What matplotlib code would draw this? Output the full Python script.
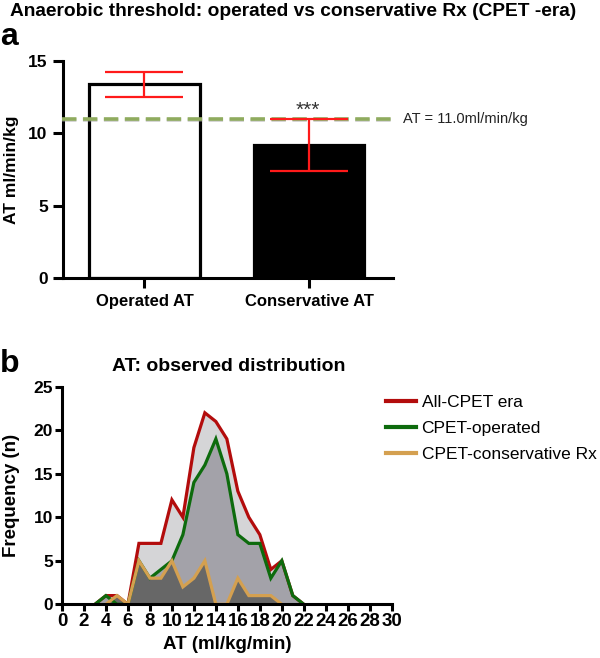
import matplotlib
matplotlib.use("Agg")
import matplotlib.pyplot as plt
import matplotlib.patheffects as pe
import numpy as np

plt.rcParams['font.family'] = ['Liberation Sans', 'DejaVu Sans']

# ---------------- data ----------------
title = "Anaerobic threshold: operated vs conservative Rx (CPET -era)"
bar_labels = ["Operated AT", "Conservative AT"]
bar_means = [13.37, 9.2]
bar_errs = [0.85, 1.79]
at_cutoff = 11.0

at_bins = list(range(3, 23))            # AT (ml/kg/min), 3..22
all_cpet = [0, 1, 1, 0, 7, 7, 7, 12, 10, 18, 22, 21, 19, 13, 10, 8, 4, 5, 1, 0]
operated = [0, 1, 0, 0, 5, 3, 4, 5, 8, 14, 16, 19, 15, 8, 7, 7, 3, 5, 1, 0]
cons_bins = list(range(4, 21))          # 4..20
conservative = [0, 1, 0, 5, 3, 3, 5, 2, 3, 5, 0, 0, 3, 1, 1, 1, 0]
series_names = ["All-CPET era", "CPET-operated", "CPET-conservative Rx"]

W, H = 600, 658
fig = plt.figure(figsize=(W / 100, H / 100), dpi=100)

def fx(px):
    return px / W

def fy(py):
    return 1 - py / H

# ---------------- panel a ----------------
axa = fig.add_axes([fx(63), fy(278.3), fx(392.7 - 63), (278.3 - 60.7) / H])
pos = np.arange(len(bar_means))
axa.bar(pos, bar_means, width=0.674, color=['white', 'black'], edgecolor='black',
        linewidth=2.3, zorder=2)
axa.errorbar(pos, bar_means, yerr=bar_errs, fmt='none', ecolor='#ff1a1a',
             elinewidth=1.6, capsize=28, capthick=1.6, zorder=4)
axa.plot([-0.5, 1.5], [at_cutoff, at_cutoff], ls=(0, (4, 1.8)), lw=2.6, color='#8fab5e',
         zorder=3, clip_on=False,
         path_effects=[pe.SimpleLineShadow(offset=(0, -1), shadow_color='#9a9a9a', alpha=0.5),
                       pe.Normal()])
axa.text(1.03, at_cutoff, "AT = 11.0ml/min/kg", transform=axa.get_yaxis_transform(),
         fontsize=10.5, va='center', ha='left', color='#222222')
axa.text(0.99, at_cutoff - 0.1, "***", ha='center', va='bottom', fontsize=15,
         color='#333333')
axa.set_xlim(-0.495, 1.509)
axa.set_ylim(0, 15)
axa.set_yticks([0, 5, 10, 15])
axa.set_xticks(pos)
axa.set_xticklabels(bar_labels, fontsize=12, fontweight='bold')
for t in axa.get_yticklabels():
    t.set_fontweight('bold'); t.set_fontsize(12.5)
axa.set_ylabel("AT ml/min/kg", fontsize=12.5, fontweight='bold')
axa.yaxis.set_label_coords(-0.132, 0.5)
for s in ['top', 'right']:
    axa.spines[s].set_visible(False)
for s in ['left', 'bottom']:
    axa.spines[s].set_linewidth(2.2)
axa.tick_params(width=2.2, length=7, pad=4)

# ---------------- panel b ----------------
axb = fig.add_axes([fx(62), fy(604.3), fx(391.7 - 62), (604.3 - 386.7) / H])
axb.fill_between(at_bins, all_cpet, 0, color='#d5d5d7', lw=0, zorder=1)
axb.fill_between(at_bins, operated, 0, color='#a3a2a9', lw=0, zorder=2)
axb.fill_between(cons_bins, conservative, 0, color='#676767', lw=0, zorder=3)
axb.plot(at_bins, all_cpet, color='#b30c0c', lw=2.3, zorder=4, label=series_names[0],
         solid_joinstyle='miter')
axb.plot(at_bins, operated, color='#0d6b0d', lw=2.3, zorder=5, label=series_names[1],
         solid_joinstyle='miter')
axb.plot(cons_bins, conservative, color='#d4a050', lw=2.3, zorder=6, label=series_names[2],
         solid_joinstyle='miter')
axb.set_xlim(0, 30)
axb.set_ylim(0, 25)
axb.set_xticks(np.arange(0, 31, 2))
axb.set_yticks(np.arange(0, 26, 5))
for t in axb.get_yticklabels():
    t.set_fontweight('bold'); t.set_fontsize(12.5)
for t in axb.get_xticklabels():
    t.set_fontweight('bold'); t.set_fontsize(13.5)
axb.set_xlabel("AT (ml/kg/min)", fontsize=13.5, fontweight='bold', labelpad=4)
axb.set_ylabel("Frequency (n)", fontsize=13.5, fontweight='bold')
axb.yaxis.set_label_coords(-0.128, 0.5)
for s in ['top', 'right']:
    axb.spines[s].set_visible(False)
for s in ['left', 'bottom']:
    axb.spines[s].set_linewidth(2.2)
    axb.spines[s].set_zorder(10)
axb.tick_params(which='major', width=2.2, length=5, pad=1.5)
leg = axb.legend(loc='upper left', bbox_to_anchor=(fx(386), fy(395)),
                 bbox_transform=fig.transFigure, frameon=False, fontsize=12.5,
                 handlelength=1.7, handletextpad=0.35, labelspacing=0.62, borderaxespad=0,
                 borderpad=0)
for ln in leg.get_lines():
    ln.set_linewidth(3)

# ---------------- texts ----------------
fig.text(fx(10), fy(15.5), title, fontsize=13.8, fontweight='bold', va='baseline', ha='left')
fig.text(fx(0), fy(45), "a", fontsize=23, fontweight='bold', va='baseline', ha='left')
fig.text(fx(0), fy(371.7), "b", fontsize=23, fontweight='bold', va='baseline', ha='left')
fig.text(fx(229), fy(370.7), "AT: observed distribution", fontsize=14, fontweight='bold',
         va='baseline', ha='center')

fig.savefig("out.png", dpi=100)
